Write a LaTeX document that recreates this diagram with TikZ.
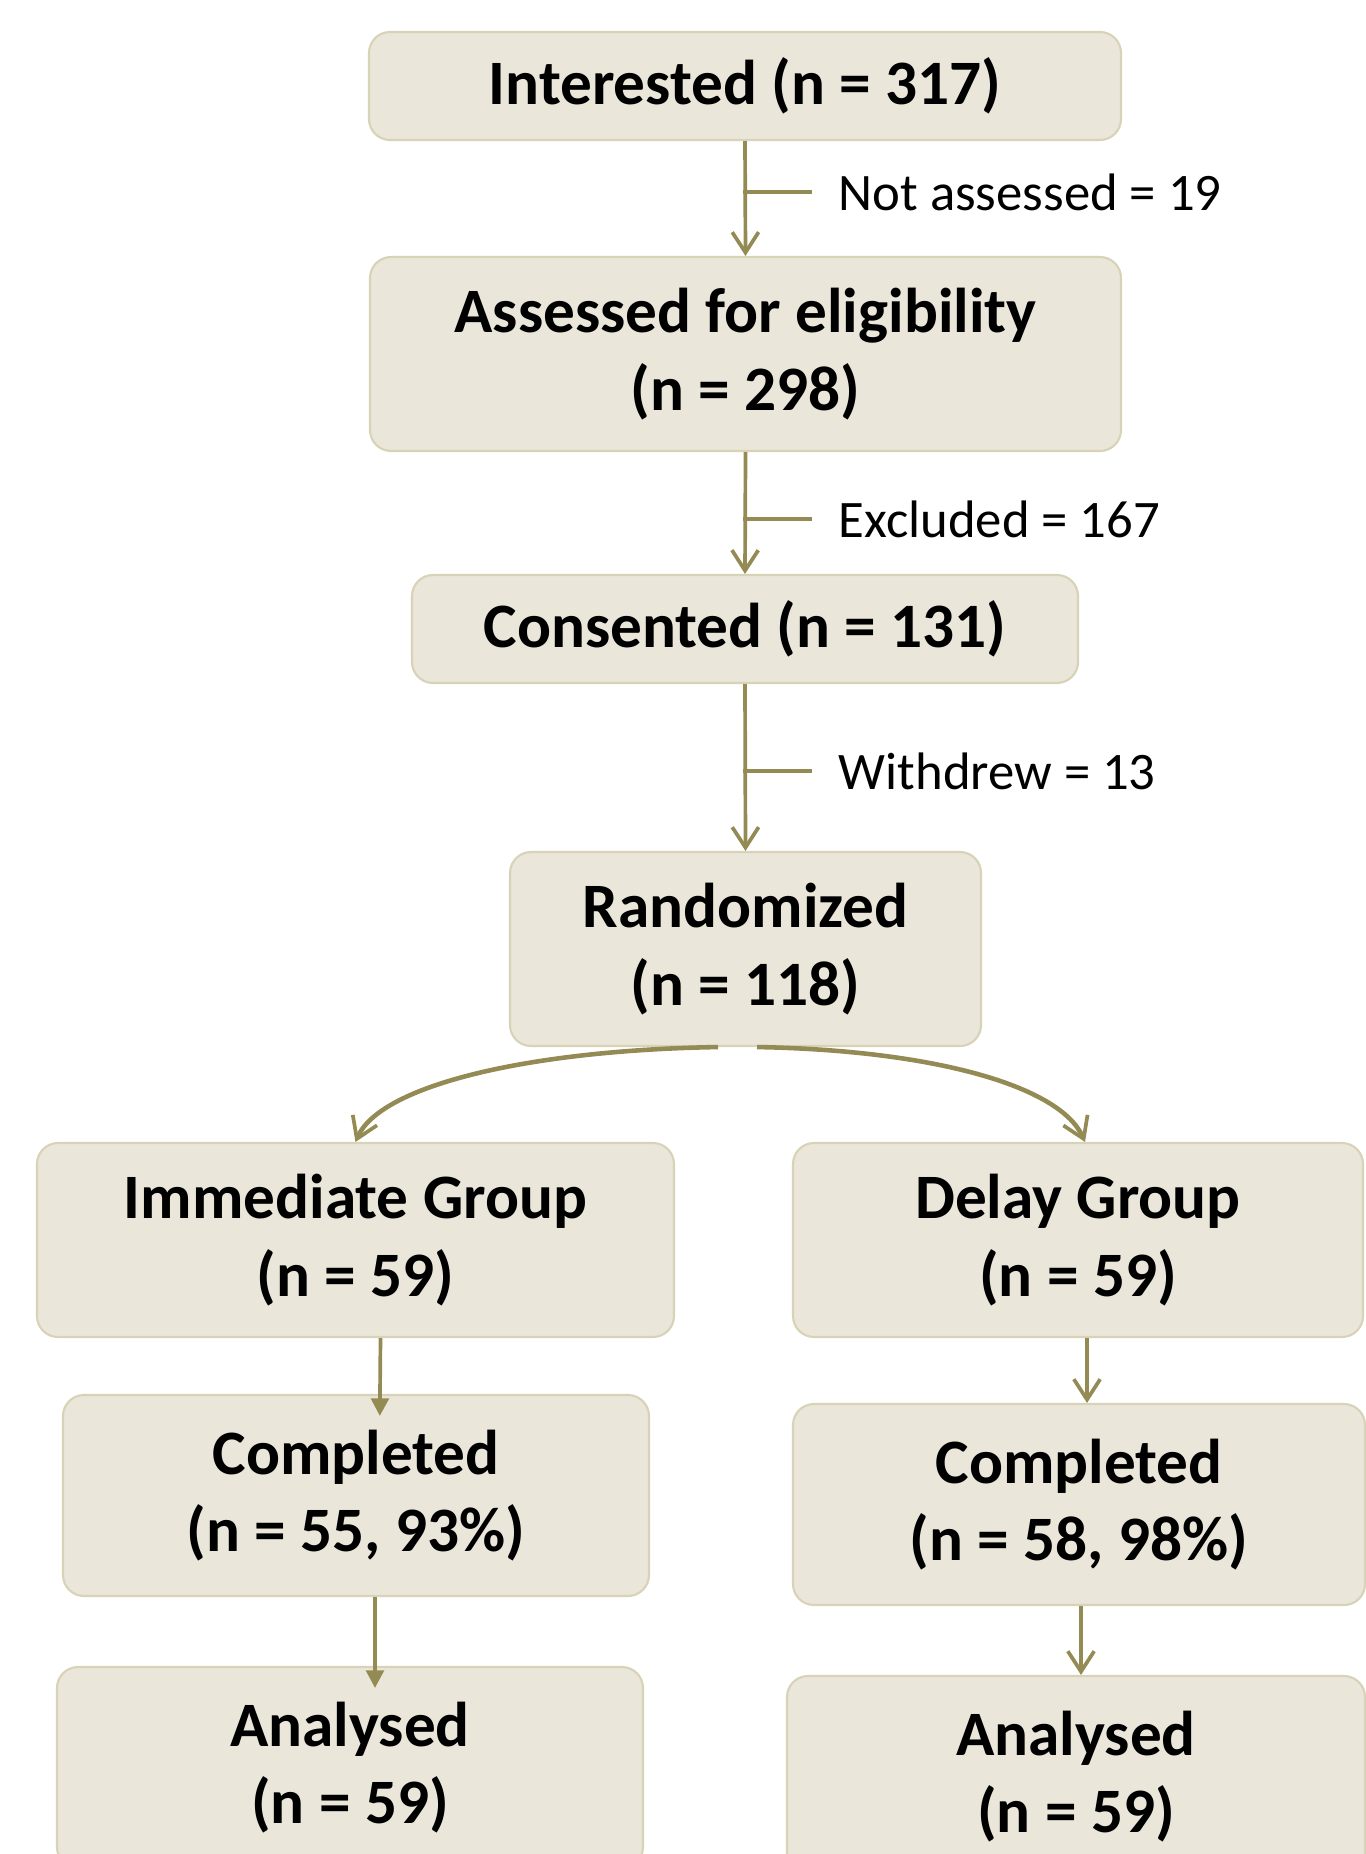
\documentclass[tikz,border=0pt]{standalone}
\usepackage{fontspec}
\setmainfont{Carlito}
\usetikzlibrary{arrows.meta}
\definecolor{boxfill}{HTML}{EAE6DA}
\definecolor{boxline}{HTML}{D8D2B6}
\definecolor{arrcol}{HTML}{948A54}
\begin{document}
\begin{tikzpicture}[line join=round,
	box/.style={draw=boxline, fill=boxfill, line width=0.6pt, rounded corners=2.1mm, align=center, inner sep=0pt,
		font=\bfseries\fontsize{18}{22}\selectfont},
	arr/.style={draw=arrcol, line width=1.05pt, -{Straight Barb[length=5.8pt, width=7.5pt, line width=1.05pt]}},
	arrfill/.style={draw=arrcol, line width=1.05pt, -{Triangle[length=5pt, width=5pt]}, arrcol},
	tick/.style={draw=arrcol, line width=1.05pt},
	sidelab/.style={anchor=west, inner xsep=0.26cm, inner ysep=0pt, font=\fontsize{15}{18}\selectfont}]
	\useasboundingbox (0,0) rectangle (13.65,-18.54);
	% main column
	\node[box, minimum width=7.52cm, minimum height=1.08cm] (inter) at (7.45,-0.86) {Interested (n = 317)};
	\node[box, minimum width=7.51cm, minimum height=1.94cm] (assess) at (7.455,-3.54) {Assessed for eligibility\\(n = 298)};
	\node[box, minimum width=6.66cm, minimum height=1.08cm] (consent) at (7.45,-6.29) {Consented (n = 131)};
	\node[box, minimum width=4.71cm, minimum height=1.94cm] (random) at (7.455,-9.49) {Randomized\\(n = 118)};
	% two arms
	\node[box, minimum width=6.37cm, minimum height=1.94cm] (immed) at (3.555,-12.40) {Immediate Group\\(n = 59)};
	\node[box, minimum width=5.70cm, minimum height=1.94cm] (delay) at (10.78,-12.40) {Delay Group\\(n = 59)};
	\node[box, minimum width=5.86cm, minimum height=2.01cm] (compL) at (3.56,-14.955) {Completed\\(n = 55, 93\%)};
	\node[box, minimum width=5.72cm, minimum height=2.01cm] (compR) at (10.79,-15.045) {Completed\\(n = 58, 98\%)};
	\node[box, minimum width=5.86cm, minimum height=2.01cm] (analL) at (3.50,-17.675) {Analysed\\(n = 59)};
	\node[box, minimum width=5.78cm, minimum height=2.01cm] (analR) at (10.76,-17.765) {Analysed\\(n = 59)};
	% arrows
	\draw[arr] (inter.south) -- (assess.north);
	\draw[arr] (assess.south) -- (consent.north);
	\draw[arr] (consent.south) -- (random.north);
	\foreach \c/\y/\t in {1/1.92/Not assessed = 19, 2/5.19/Excluded = 167, 3/7.71/Withdrew = 13}
	{
		\coordinate (t\c) at (7.43,-\y);
		\node[sidelab] (lab\c) at (8.12,-\y) {\t};
		\draw[tick] (t\c) -- (lab\c.west);
	}
	\draw[arr, line width=1.3pt] ([xshift=-2.75mm]random.south) .. controls (5.3,-10.5) and (3.8,-10.85) .. (immed.north);
	\draw[arr, line width=1.3pt] ([xshift=1.15mm]random.south) .. controls (9.3,-10.5) and (10.6,-10.85) .. ([xshift=0.7mm]delay.north);
	\draw[arrfill, shorten >=-2.2mm] ([xshift=2.5mm]immed.south) -- ([xshift=2.4mm]compL.north);
	\draw[arrfill, shorten >=-2.2mm] ([xshift=1.9mm]compL.south) -- ([xshift=2.5mm]analL.north);
	\draw[arr] ([xshift=0.9mm]delay.south) -- ([xshift=0.8mm]compR.north);
	\draw[arr] ([xshift=0.2mm]compR.south) -- ([xshift=0.5mm]analR.north);
\end{tikzpicture}
\end{document}
